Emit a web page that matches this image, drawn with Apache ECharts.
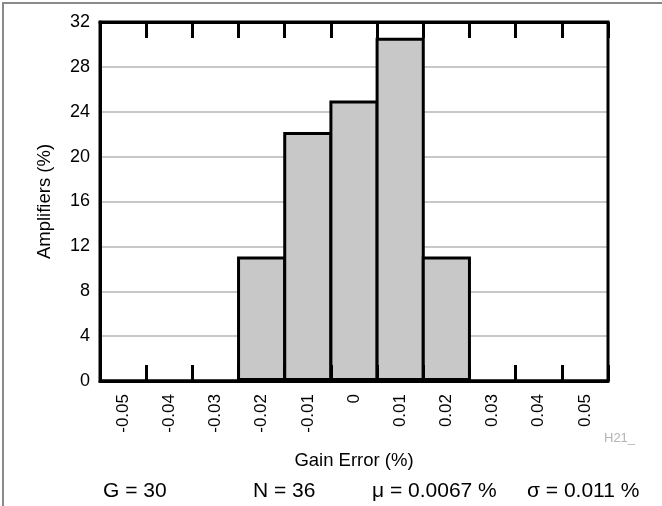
<!DOCTYPE html>
<html>
<head>
<meta charset="utf-8">
<script src="https://cdn.jsdelivr.net/npm/echarts@6/dist/echarts.min.js"></script>
<style>
html,body{margin:0;padding:0;background:#fff;}
#chart{width:662px;height:506px;}
</style>
</head>
<body>
<div id="chart"></div>
<script>
var categories = ['-0.05','-0.04','-0.03','-0.02','-0.01','0','0.01','0.02','0.03','0.04','0.05'];
var amplifiers = [0, 0, 0, 11.1, 22.2, 25.0, 30.6, 11.1, 0, 0, 0];
var yMin = 0, yMax = 32, yStep = 4;
var statTexts = ['G = 30', 'N = 36', 'μ = 0.0067 %', 'σ = 0.011 %'];
var statLeft = [103, 253, 372, 527];
var xTitle = 'Gain Error (%)';
var yTitle = 'Amplifiers (%)';
var figureTag = 'H21_';

var FONT = '"Liberation Sans", Arial, Helvetica, sans-serif';
var chart = echarts.init(document.getElementById('chart'), null, {renderer:'canvas'});

var gridW = 508, gridH = 359;
var bandW = gridW / categories.length;

var graphics = [
  {type:'polyline', shape:{points:[[3,506],[3,3],[662,3]]}, style:{stroke:'#8a8a8a', lineWidth:2, fill:null}, z:10},
  {type:'text', left:604, top:432, style:{text:figureTag, fontFamily:FONT, fontSize:13, fill:'#b4b4b4'}}
];
statTexts.forEach(function(t,i){
  graphics.push({type:'text', left:statLeft[i], top:481, style:{text:t, fontFamily:FONT, fontSize:21, fill:'#000'}});
});

chart.setOption({
  animation:false,
  backgroundColor:'#fff',
  textStyle:{fontFamily:FONT},
  grid:{left:100, top:22, width:gridW, height:gridH, show:true, borderColor:'#000', borderWidth:3, backgroundColor:'transparent', z:5},
  xAxis:[{
    type:'category', data:categories, position:'bottom',
    axisLine:{show:true, lineStyle:{color:'#000', width:3}},
    axisTick:{show:true, inside:true, length:16, lineStyle:{color:'#000', width:3}},
    axisLabel:{rotate:90, fontSize:17, color:'#000', fontFamily:FONT, margin:13, interval:0},
    name:xTitle, nameLocation:'middle', nameGap:70,
    nameTextStyle:{fontSize:18.5, color:'#000', fontFamily:FONT},
    z:6
  },{
    type:'category', data:categories, position:'top',
    axisLine:{show:true, lineStyle:{color:'#000', width:3}},
    axisTick:{show:true, inside:true, length:16, lineStyle:{color:'#000', width:3}},
    axisLabel:{show:false},
    z:6
  }],
  yAxis:{
    type:'value', min:yMin, max:yMax, interval:yStep,
    axisLine:{show:true, lineStyle:{color:'#000', width:3}},
    axisTick:{show:false},
    axisLabel:{fontSize:18, color:'#000', fontFamily:FONT, margin:10},
    splitLine:{show:true, lineStyle:{color:'#c8c8c8', width:2}},
    name:yTitle, nameLocation:'middle', nameGap:46,
    nameTextStyle:{fontSize:18.5, color:'#000', fontFamily:FONT}
  },
  series:[{
    type:'bar', data:amplifiers, xAxisIndex:0,
    barWidth:bandW + 3,
    itemStyle:{color:'#c8c8c8', borderColor:'#000', borderWidth:3},
    z:3
  }],
  graphic:graphics
});
</script>
</body>
</html>
